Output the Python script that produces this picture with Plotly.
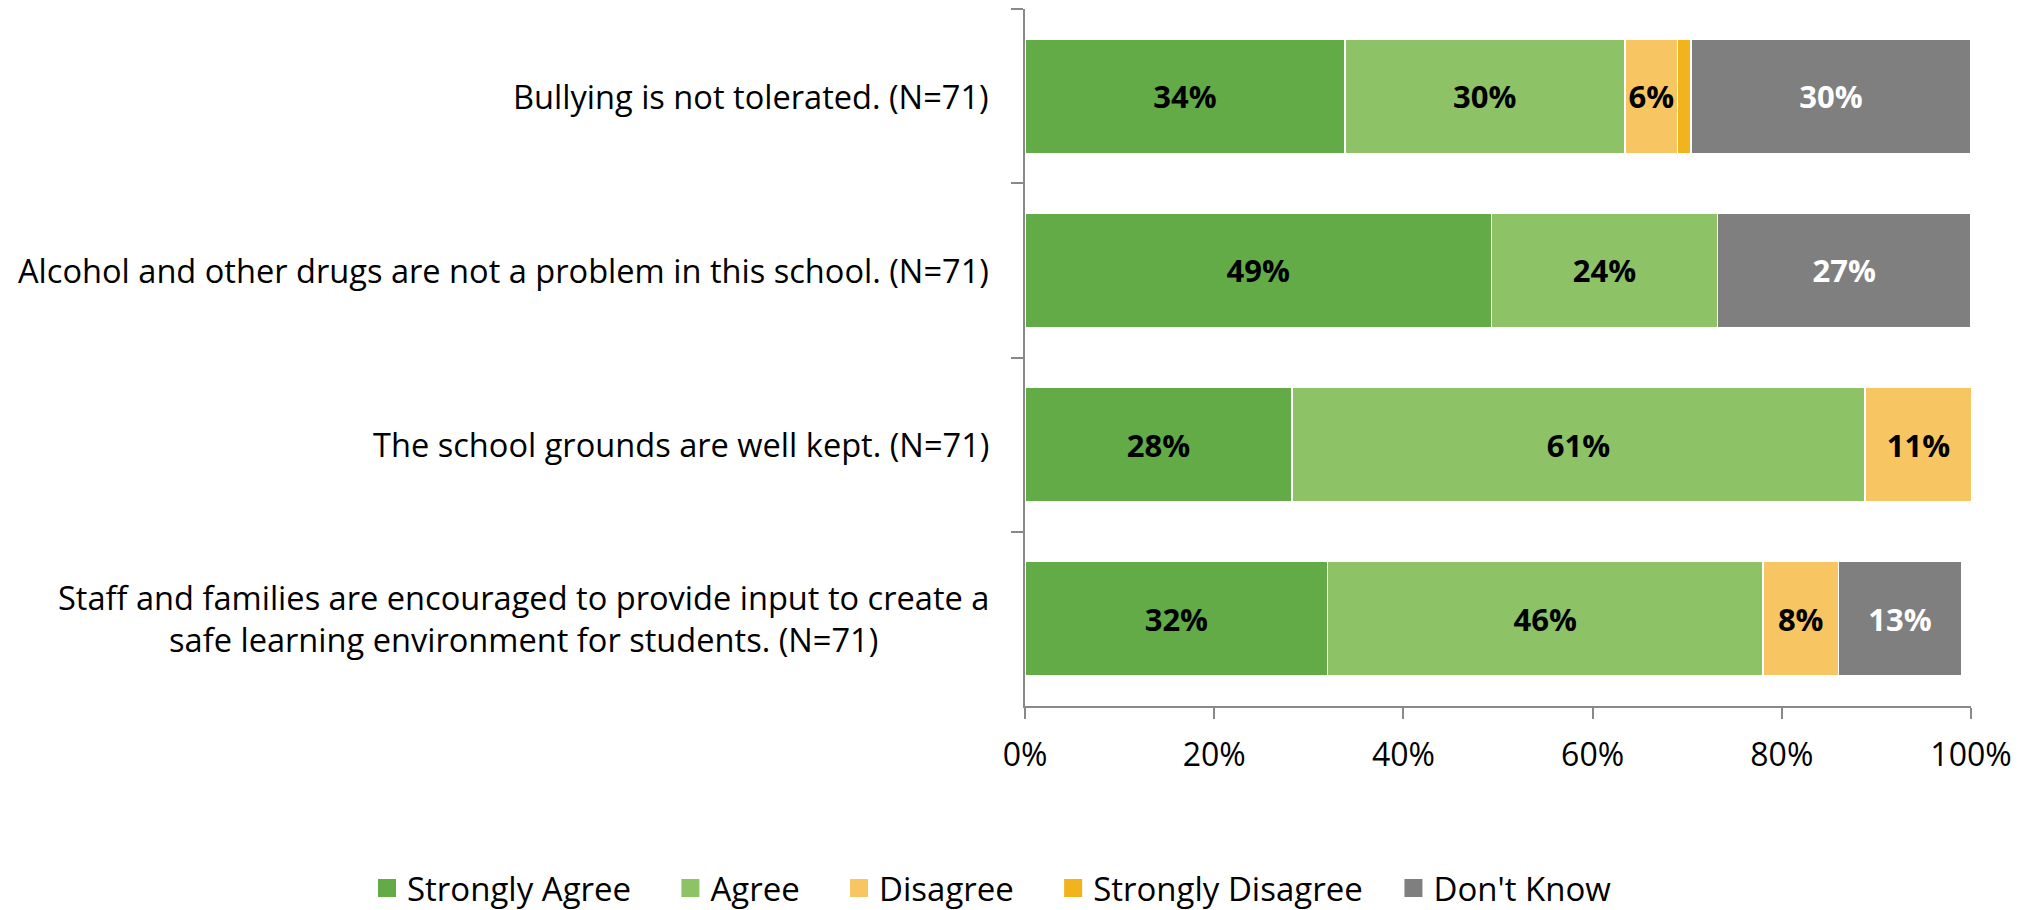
import plotly.graph_objects as go

categories = [
    "Bullying is not tolerated. (N=71)",
    "Alcohol and other drugs are not a problem in this school. (N=71)",
    "The school grounds are well kept. (N=71)",
    "Staff and families are encouraged to provide input to create a<br>safe learning environment for students. (N=71)",
]
series_names = ["Strongly Agree", "Agree", "Disagree", "Strongly Disagree", "Don't Know"]
strongly_agree = [33.8, 49.3, 28.2, 32.0]
agree = [29.6, 23.9, 60.6, 46.0]
disagree = [5.6, 0.0, 11.3, 8.0]
strongly_disagree = [1.4, 0.0, 0.0, 0.0]
dont_know = [29.6, 26.8, 0.0, 13.0]
tick_values = [0, 20, 40, 60, 80, 100]
tick_labels = ["0%", "20%", "40%", "60%", "80%", "100%"]

colors = ["#62AB46", "#8DC366", "#F7C662", "#F2B31C", "#7F7F7F"]
text_colors = ["#000000", "#000000", "#000000", "#000000", "#FFFFFF"]
all_values = [strongly_agree, agree, disagree, strongly_disagree, dont_know]
legend_pads = [4, 4, 4, 3, 0]

FONT = "Open Sans"
AXIS_COLOR = "#898989"
# the page body has an 8px default margin, so the figure is drawn 8px smaller
W, H = 2022, 902
L, R, T, B = 1017, 59, 1, 204
plot_w = W - L - R
plot_h = H - T - B

fig = go.Figure()
for name, vals, col, tcol in zip(series_names, all_values, colors, text_colors):
    texts = [f"{round(v)}%" if v >= 3 else "" for v in vals]
    fig.add_trace(go.Bar(
        name=name, y=categories, x=vals, orientation="h",
        marker=dict(color=col, line=dict(color="#FFFFFF", width=1.5)),
        text=texts, textposition="inside", insidetextanchor="middle",
        textangle=0, constraintext="none",
        textfont=dict(family=FONT, size=31, color=tcol, weight="bold"),
        hoverinfo="skip", showlegend=False, legendgroup=name,
    ))

# legend entries (square swatches)
for name, col, npad in zip(series_names, colors, legend_pads):
    fig.add_trace(go.Scatter(
        x=[None], y=[None], mode="markers", name=name + "\u00a0" * npad,
        marker=dict(symbol="square", size=16, color=col, line=dict(color=col, width=2)),
        legendgroup=name, showlegend=True, hoverinfo="skip",
    ))

for c in categories:
    fig.add_annotation(
        x=0, xref="paper", y=c, yref="y", xanchor="right", yanchor="middle",
        xshift=-34, text=c, showarrow=False, align="center",
        font=dict(family=FONT, size=32.6, color="#000000"),
    )

legend_left_px = 359
legend_center_y_px = 880

fig.update_layout(
    width=W, height=H,
    barmode="stack", bargap=0.343,
    plot_bgcolor="white", paper_bgcolor="white",
    margin=dict(l=L, r=R, t=T, b=B, autoexpand=False),
    font=dict(family=FONT, size=33, color="#000000"),
    showlegend=True,
    legend=dict(
        orientation="h", xref="paper", yref="paper",
        x=(legend_left_px - L) / plot_w, xanchor="left",
        y=(H - B - legend_center_y_px) / plot_h, yanchor="middle",
        font=dict(family=FONT, size=33, color="#000000"),
        traceorder="normal", itemsizing="trace",
    ),
    xaxis=dict(
        range=[0, 100], tickvals=tick_values, ticktext=tick_labels,
        ticks="outside", ticklen=11, tickcolor=AXIS_COLOR, tickwidth=2,
        ticklabelstandoff=9,
        showline=True, linecolor=AXIS_COLOR, linewidth=2,
        showgrid=False, zeroline=False,
        tickfont=dict(family=FONT, size=32, color="#000000"),
    ),
    yaxis=dict(
        type="category", autorange="reversed",
        tickson="boundaries", ticks="outside", ticklen=12,
        tickcolor=AXIS_COLOR, tickwidth=2,
        showline=True, linecolor=AXIS_COLOR, linewidth=2,
        showgrid=False, showticklabels=False,
    ),
)

fig.write_html("out.html")
